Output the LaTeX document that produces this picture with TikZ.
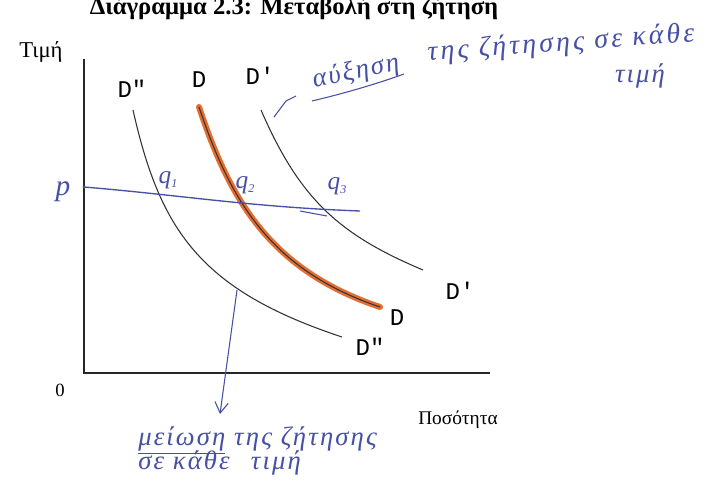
\documentclass[tikz,border=0pt]{standalone}
\usepackage{fontspec}
\setmainfont{Liberation Serif}
\newfontfamily\monofnt{Liberation Mono}
\newfontfamily\handfnt{Liberation Serif Italic}
\usetikzlibrary{arrows.meta}
\definecolor{ink}{RGB}{70,80,165}
\definecolor{marker}{RGB}{228,110,50}
\tikzset{
  curve/.style={line width=0.8pt, black!80},
  axis/.style={line width=0.9pt, black!85},
  dlabel/.style={font=\monofnt\fontsize{18}{18}\selectfont, inner sep=0pt},
  hand/.style={text=ink, inner sep=0pt},
  handline/.style={ink, line width=0.8pt},
}
\newcommand{\hfnt}[2]{\handfnt\fontsize{#1}{#1}\selectfont\addfontfeature{LetterSpace=#2}}
\begin{document}
\begin{tikzpicture}[x=0.75pt,y=-0.75pt]
\useasboundingbox (0,0) rectangle (721,495);
\fill[white] (0,0) rectangle (721,495);
\begin{scope}
\clip (0,0) rectangle (721,495);
\node[font=\bfseries\fontsize{18.5}{18.5}\selectfont, anchor=base, inner sep=0pt] (title) at (294,15) {Διάγραμμα 2.3: Μεταβολή στη ζήτηση};
\end{scope}
% axes
\coordinate (o) at (84,373);
\coordinate (ytop) at (84,59);
\coordinate (xend) at (490,373);
\draw[axis] (ytop) -- (o) -- (xend);
\node[font=\fontsize{17}{17}\selectfont, inner sep=0pt] (price) at (41,52) {Τιμή};
\node[font=\fontsize{14}{14}\selectfont, inner sep=0pt] (zero) at (60,390) {0};
\node[font=\fontsize{14.5}{14.5}\selectfont, inner sep=0pt] (qty) at (458,420) {Ποσότητα};
% demand curves
\draw[curve] (133,110) .. controls (160,230) and (200,290) .. (342,337);
\draw[marker, line width=4.5pt, line cap=round] (199,107) .. controls (230,200) and (270,270) .. (380,307);
\draw[curve] (199,107) .. controls (230,200) and (270,270) .. (380,307);
\draw[curve] (261,110) .. controls (300,200) and (340,235) .. (423,270);
\node[dlabel] (dpp1) at (132,89) {D"};
\node[dlabel] (d1) at (199,80) {D};
\node[dlabel] (dp1) at (260,76) {D'};
\node[dlabel] (dp2) at (460,291) {D'};
\node[dlabel] (d2) at (397,318) {D};
\node[dlabel] (dpp2) at (370,347) {D"};
% price line
\node[hand, font=\hfnt{22}{0}] (P) at (63,192) {p};
\coordinate (pl) at (84,187);
\coordinate (pr) at (360,211);
\fill[ink] (pl) circle (1.6);
\draw[handline, line width=1pt] (pl) .. controls (180,195) and (250,207) .. (pr);
\draw[handline] (300,211) -- (327,216);
\node[hand, font=\hfnt{19}{0}] (q1) at (168,180) {q\raisebox{-3pt}{\small 1}};
\node[hand, font=\hfnt{19}{0}] (q2) at (245,185) {q\raisebox{-3pt}{\small 2}};
\node[hand, font=\hfnt{19}{0}] (q3) at (337,186) {q\raisebox{-3pt}{\small 3}};
% increase annotation
\coordinate (ia) at (274,117);
\coordinate (ib) at (286,101);
\draw[handline] (ia) -- (ib) -- (296,96);
\node[hand, font=\hfnt{20}{8}, rotate=12] (inc1) at (356,72) {αύξηση};
\draw[handline] (312,101) .. controls (350,92) and (382,82) .. (404,74);
\node[hand, font=\hfnt{21}{11}, rotate=4] (inc2) at (561,44) {της ζήτησης σε κάθε};
\node[hand, font=\hfnt{20}{8}] (inc3) at (640,76) {τιμή};
% decrease annotation
\coordinate (da) at (237,290);
\coordinate (db) at (220,414);
\draw[handline, -{Straight Barb[length=8pt,width=10pt]}] (da) -- (db);
\node[hand, font=\hfnt{20}{8}, anchor=west] (dec1) at (138,440) {\underline{μείωση} της ζήτησης};
\node[hand, font=\hfnt{20}{8}, anchor=west] (dec2) at (138,463) {σε κάθε\hspace{16pt}τιμή};
\end{tikzpicture}
\end{document}
